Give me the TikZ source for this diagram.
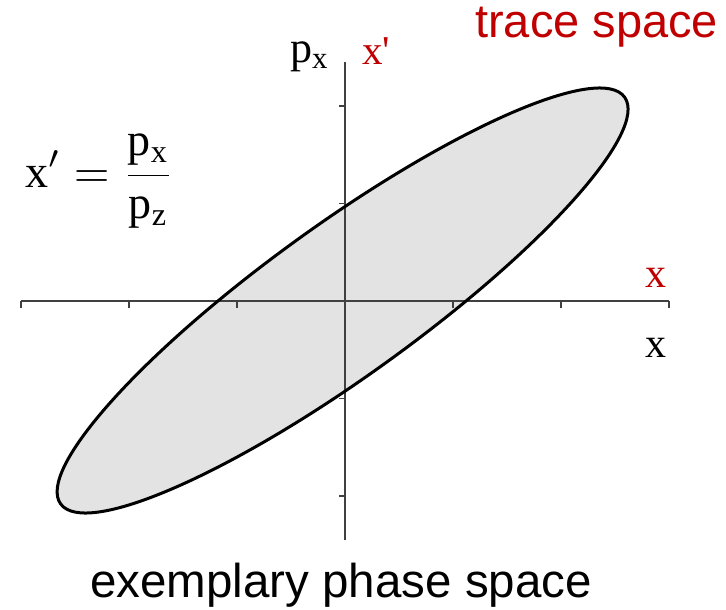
\documentclass[tikz,border=0pt]{standalone}
\usepackage{fontspec}
\setmainfont{Liberation Serif}
\newfontfamily\arialfont{Liberation Sans}
\definecolor{darkred}{HTML}{C00000}
\definecolor{axisgray}{HTML}{404040}
\definecolor{ellfill}{HTML}{E3E3E3}
\begin{document}
\begin{tikzpicture}[x=1pt,y=-1pt,
  axisline/.style={axisgray, line width=1.4pt},
  tickline/.style={axisgray, line width=1.2pt},
  lbl/.style={inner sep=0pt, anchor=base west},
  ellborder/.style={black, line width=3pt},
]
\useasboundingbox (0,0) rectangle (726,610);
\coordinate (O) at (345,301);
\coordinate (E) at (342.6,300.5);
% ellipse fill
\fill[ellfill, rotate around={35.8:(E)}] (E) ellipse [x radius=347.7, y radius=75.8];
% axes
\coordinate (xl) at (21,301);
\coordinate (xr) at (669,301);
\coordinate (yt) at (345,62);
\coordinate (yb) at (345,540);
\draw[axisline] (xl) -- (xr);
\draw[axisline] (yt) -- (yb);
\foreach \k in {0,...,6} {
  \coordinate (tx\k) at ({21+108*\k},301);
  \draw[tickline] (tx\k) -- ++(0,7);
}
\foreach \k in {-2,-1,1,2} {
  \coordinate (ty\k) at (345,{301+97.5*\k});
  \draw[tickline] (ty\k) -- ++(-6,0);
}
% ellipse border
\draw[ellborder, rotate around={35.8:(E)}] (E) ellipse [x radius=347.7, y radius=75.8];
% labels
\node[lbl, font=\fontsize{44}{50}\selectfont] (px) at (290,63) {p$_\mathrm{x}$};
\node[lbl, font=\fontsize{41}{48}\selectfont, text=darkred] (xp) at (362,65) {x\textquotesingle};
\node[lbl, font=\fontsize{42}{48}\selectfont, text=darkred] (xred) at (645,287) {x};
\node[lbl, font=\fontsize{42}{48}\selectfont] (xblack) at (645,357) {x};
\node[lbl, font=\arialfont\fontsize{47}{54}\selectfont, text=darkred] (trace) at (475,38) {trace space};
\node[lbl, font=\arialfont\fontsize{47.5}{54}\selectfont] (phase) at (90,597) {exemplary phase space};
\node[lbl] (formula) at (25,187) {\scalebox{4.6}{\fontsize{10}{12}\selectfont$\displaystyle\mathrm{x}' = \frac{\mathrm{p_x}}{\mathrm{p_z}}$}};
\end{tikzpicture}
\end{document}
